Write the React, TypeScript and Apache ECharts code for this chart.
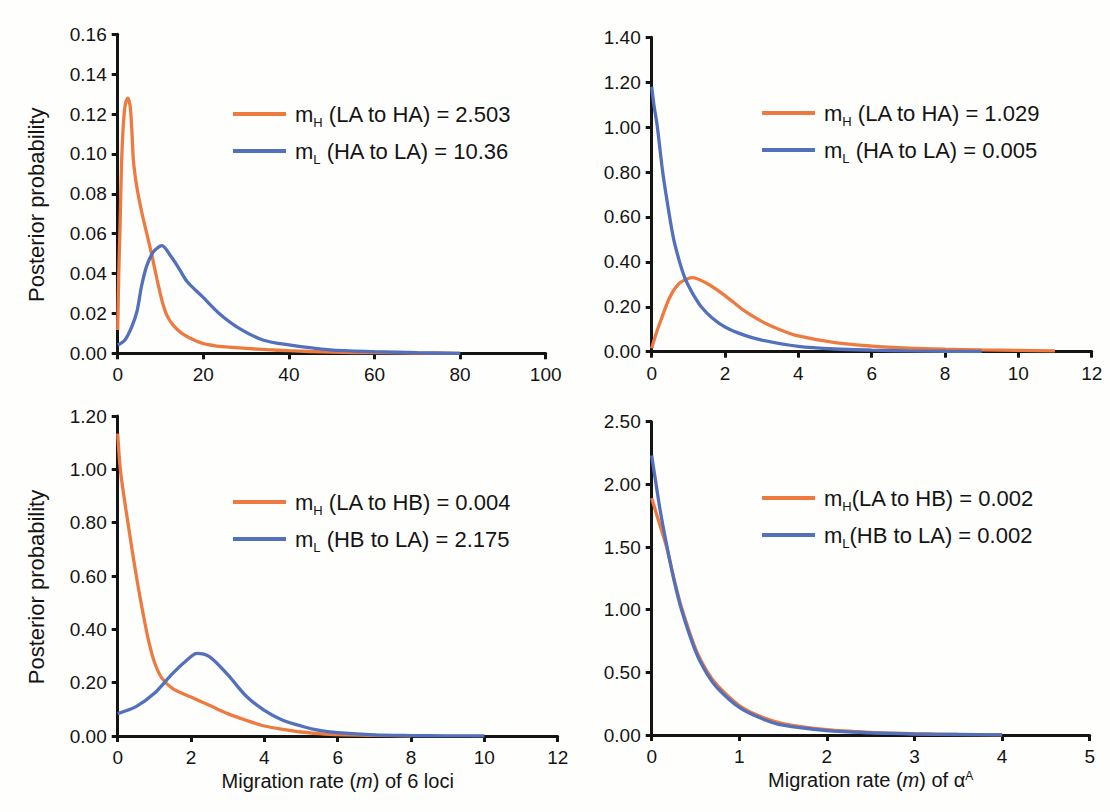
import React, { useEffect, useRef } from "react";
import * as echarts from "echarts";

const FONT = '"Liberation Sans", Arial, Helvetica, sans-serif';
const ORANGE = "#ED7B41";
const BLUE = "#5270BB";
const INK = "#141414";

// Panel A (top-left): 6 loci, LA <-> HA
const aHx = [0, 0.25, 0.55, 0.9, 1.33, 1.8, 2.35, 2.9, 3.3, 3.7, 4.5, 5.6, 6.8, 8, 9.2, 10.4, 11.5, 13, 15, 17.5, 19.8, 24.5, 30, 35, 40, 45, 50, 55, 60, 70, 80];
const aHy = [0.0117, 0.04, 0.064, 0.095, 0.115, 0.125, 0.128, 0.124, 0.112, 0.096, 0.083, 0.071, 0.06, 0.049, 0.037, 0.026, 0.019, 0.014, 0.01, 0.007, 0.005, 0.0033, 0.0025, 0.0018, 0.0013, 0.0009, 0.0006, 0.0004, 0.0003, 0.0001, 0];
const aLx = [0, 1.7, 3.3, 4.5, 5.6, 6.8, 8.4, 10.35, 12.3, 14.3, 16.2, 19.8, 23.7, 28.4, 33.9, 40, 49.6, 60, 70, 80];
const aLy = [0.0042, 0.0067, 0.0134, 0.021, 0.034, 0.044, 0.051, 0.054, 0.049, 0.0426, 0.036, 0.0284, 0.02, 0.0125, 0.0067, 0.0042, 0.0017, 0.0008, 0.0003, 0];

// Panel B (top-right): alpha-A, LA <-> HA
const bHx = [0, 0.1, 0.25, 0.5, 0.75, 1, 1.1, 1.5, 2, 2.5, 3, 3.5, 4, 5, 6, 7, 8, 9, 10, 11];
const bHy = [0.015, 0.07, 0.14, 0.245, 0.304, 0.326, 0.33, 0.305, 0.25, 0.185, 0.135, 0.098, 0.07, 0.04, 0.025, 0.016, 0.011, 0.008, 0.006, 0.004];
const bLx = [0, 0.06, 0.155, 0.3, 0.45, 0.6, 0.76, 0.9, 1, 1.15, 1.35, 1.65, 2, 2.5, 3, 4, 5, 6, 7, 8, 9];
const bLy = [1.18, 1.1, 1.0, 0.8, 0.64, 0.5, 0.4, 0.33, 0.295, 0.25, 0.2, 0.15, 0.11, 0.075, 0.052, 0.024, 0.012, 0.007, 0.004, 0.002, 0.001];

// Panel C (bottom-left): 6 loci, LA <-> HB
const cHx = [0, 0.08, 0.29, 0.52, 0.79, 0.9, 1.02, 1.2, 1.5, 2, 2.5, 3, 3.5, 4, 4.5, 5, 5.5, 6, 7, 8];
const cHy = [1.134, 0.99, 0.79, 0.59, 0.39, 0.325, 0.27, 0.218, 0.178, 0.146, 0.115, 0.084, 0.059, 0.0375, 0.025, 0.015, 0.009, 0.005, 0.002, 0];
const cLx = [0, 0.5, 1, 1.5, 2, 2.15, 2.5, 3, 3.5, 4, 4.5, 5, 5.5, 6, 7, 8, 9, 10];
const cLy = [0.084, 0.11, 0.16, 0.235, 0.298, 0.31, 0.298, 0.23, 0.15, 0.096, 0.059, 0.0375, 0.021, 0.0125, 0.004, 0.0015, 0.0005, 0];

// Panel D (bottom-right): alpha-A, LA <-> HB
const dHx = [0, 0.1, 0.17, 0.25, 0.34, 0.5, 0.63, 0.75, 1, 1.25, 1.5, 2, 2.5, 3, 3.5, 4];
const dHy = [1.89, 1.66, 1.5, 1.26, 1.02, 0.69, 0.51, 0.395, 0.235, 0.145, 0.09, 0.042, 0.021, 0.011, 0.005, 0.002];
const dLx = [0, 0.05, 0.1, 0.17, 0.25, 0.34, 0.5, 0.63, 0.75, 1, 1.25, 1.5, 2, 2.5, 3, 3.5, 4];
const dLy = [2.23, 2.0, 1.78, 1.52, 1.25, 1.0, 0.67, 0.49, 0.375, 0.22, 0.133, 0.078, 0.035, 0.017, 0.008, 0.004, 0.001];

const xMax = [100, 12, 12, 5];
const xStep = [20, 2, 2, 1];
const yMax = [0.16, 1.4, 1.2, 2.5];
const yStep = [0.02, 0.2, 0.2, 0.5];

const legendText = [
  ["{b|m}{s|H}{b| (LA to HA) = 2.503}", "{b|m}{s|L}{b| (HA to LA) = 10.36}"],
  ["{b|m}{s|H}{b| (LA to HA) = 1.029}", "{b|m}{s|L}{b| (HA to LA) = 0.005}"],
  ["{b|m}{s|H}{b| (LA to HB) = 0.004}", "{b|m}{s|L}{b| (HB to LA) = 2.175}"],
  ["{b|m}{s|H}{b|(LA to HB) = 0.002}", "{b|m}{s|L}{b|(HB to LA) = 0.002}"],
];
const yName = "Posterior probability";
const xNames = [
  "",
  "",
  "{n|Migration rate (}{i|m}{n|) of 6 loci}",
  "{n|Migration rate (}{i|m}{n|) of α}{sup|A}",
];

const seriesSets = [
  [aHx, aHy, aLx, aLy],
  [bHx, bHy, bLx, bLy],
  [cHx, cHy, cLx, cLy],
  [dHx, dHy, dLx, dLy],
];

const grids = [
  { left: 117.7, top: 34.3, width: 428, height: 319 },
  { left: 651.7, top: 37.3, width: 440, height: 314.4 },
  { left: 117.7, top: 416, width: 440, height: 320 },
  { left: 651.7, top: 421.7, width: 438, height: 313.3 },
];
const legendPos = [
  { left: 233, top: 99 },
  { left: 762, top: 98 },
  { left: 233, top: 487 },
  { left: 762, top: 483 },
];

function zip(xs: number[], ys: number[]) {
  return xs.map((x, i) => [x, ys[i]]);
}

export default function App() {
  const ref = useRef<HTMLDivElement>(null);
  useEffect(() => {
    if (!ref.current) return;
    const chart = echarts.init(ref.current, undefined, { renderer: "svg" });
    const axisLine = { show: true, onZero: false, lineStyle: { color: INK, width: 3 } };
    const axisTick = { show: true, length: 6, lineStyle: { color: INK, width: 3 } };
    const names: string[][] = [];
    const series: any[] = [];
    seriesSets.forEach((s, i) => {
      const nH = "p" + i + "H";
      const nL = "p" + i + "L";
      names.push([nH, nL]);
      series.push({
        name: nH, type: "line", xAxisIndex: i, yAxisIndex: i, data: zip(s[0], s[1]),
        showSymbol: false, symbol: "none", smooth: 0.3,
        lineStyle: { color: ORANGE, width: 3.3 }, itemStyle: { color: ORANGE },
      });
      series.push({
        name: nL, type: "line", xAxisIndex: i, yAxisIndex: i, data: zip(s[2], s[3]),
        showSymbol: false, symbol: "none", smooth: 0.3,
        lineStyle: { color: BLUE, width: 3.3 }, itemStyle: { color: BLUE },
      });
    });
    const option: any = {
      animation: false,
      backgroundColor: "#FEFEFC",
      textStyle: { fontFamily: FONT },
      grid: grids,
      xAxis: grids.map((_, i) => ({
        type: "value", gridIndex: i, min: 0, max: xMax[i], interval: xStep[i],
        axisLine, axisTick, splitLine: { show: false },
        axisLabel: { fontSize: 19, color: INK, margin: 12, fontFamily: FONT },
        name: xNames[i], nameLocation: "middle", nameGap: 35,
        nameTextStyle: {
          fontFamily: FONT, fontSize: 20, color: INK,
          rich: {
            n: { fontSize: 20, color: INK, fontFamily: FONT },
            i: { fontSize: 20, color: INK, fontStyle: "italic", fontFamily: FONT },
            sup: { fontSize: 12, color: INK, verticalAlign: "top", lineHeight: 12, fontFamily: FONT },
          },
        },
      })),
      yAxis: grids.map((_, i) => ({
        type: "value", gridIndex: i, min: 0, max: yMax[i], interval: yStep[i],
        axisLine, axisTick, splitLine: { show: false },
        axisLabel: {
          fontSize: 19, color: INK, margin: 11, fontFamily: FONT,
          formatter: (v: number) => v.toFixed(2),
        },
        name: i % 2 === 0 ? yName : "", nameLocation: "middle", nameGap: 70,
        nameTextStyle: { fontFamily: FONT, fontSize: 22, color: INK, padding: [0, 22, 0, 0] },
      })),
      legend: grids.map((_, i) => ({
        left: legendPos[i].left, top: legendPos[i].top, orient: "vertical",
        padding: 0,
        data: names[i], icon: "rect", itemWidth: 53, itemHeight: 3.8, itemGap: 7,
        selectedMode: false,
        formatter: (name: string) => legendText[i][name.endsWith("H") ? 0 : 1],
        textStyle: {
          fontFamily: FONT, fontSize: 22, color: INK, lineHeight: 30, padding: [0, 0, 0, 4],
          rich: {
            b: { fontSize: 22, color: INK, fontFamily: FONT, lineHeight: 30 },
            s: { fontSize: 13, color: INK, fontFamily: FONT, lineHeight: 12, verticalAlign: "bottom" },
          },
        },
      })),
      series,
    };
    chart.setOption(option);
    return () => chart.dispose();
  }, []);
  return (
    <div
      ref={ref}
      style={{ position: "absolute", left: 0, top: 0, width: 1110, height: 812 }}
    />
  );
}
